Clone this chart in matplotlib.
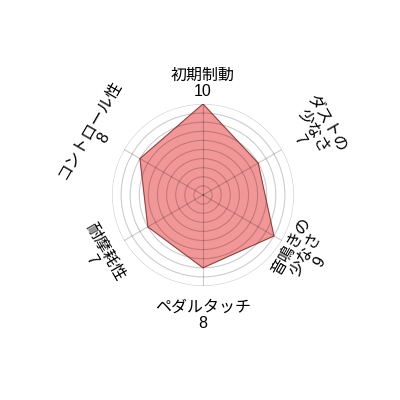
import numpy as np
import matplotlib
matplotlib.use('Agg')
import matplotlib.pyplot as plt

# Data
categories = ['初期制動', 'ダストの\n少なさ', '音鳴きの\n少なさ', 'ペダルタッチ', '耐摩耗性', 'コントロール性']
values = [10, 7, 9, 8, 7, 8]
rings = [1, 2, 3, 4, 5, 6, 7, 8, 9, 10]

plt.rcParams['font.family'] = ['Liberation Sans', 'Noto Sans CJK JP']

fig = plt.figure(figsize=(4, 4), dpi=100)
ax = fig.add_axes([0.28, 0.285, 0.455, 0.455], projection='polar')
ax.set_theta_offset(np.pi / 2)
ax.set_theta_direction(-1)

n = len(categories)
angles = np.arange(n) * 2 * np.pi / n
closed_a = np.append(angles, angles[0])
closed_v = np.append(values, values[0])

ax.fill(closed_a, closed_v, color='#F08080', alpha=0.82, zorder=1)
ax.plot(closed_a, closed_v, color='#7A3B3B', linewidth=0.6, zorder=2)

ax.set_ylim(0, 10)
ax.set_yticks(rings)
ax.set_yticklabels([])
ax.set_xticks(angles)
ax.set_xticklabels([])
ax.tick_params(length=0)
ax.grid(True, color='black', alpha=0.2, linewidth=0.8)
ax.spines['polar'].set_visible(False)

# label radii (data units)
label_r = [12.3, 14.0, 13.0, 13.2, 13.3, 13.5]

for a, name, v, r in zip(angles, categories, values, label_r):
    deg = np.degrees(np.pi / 2 - a)  # screen angle
    s = np.sin(np.radians(deg))
    if abs(s) > 0.99:
        rot = 0
    elif s > 0:
        rot = deg - 90
    else:
        rot = deg + 90
    ax.text(a, r, f'{name}\n{v}', ha='center', va='center', rotation=rot,
            rotation_mode='anchor', multialignment='center', fontsize=11.5,
            linespacing=1.1, clip_on=False)

plt.savefig('out.png', facecolor='white')
